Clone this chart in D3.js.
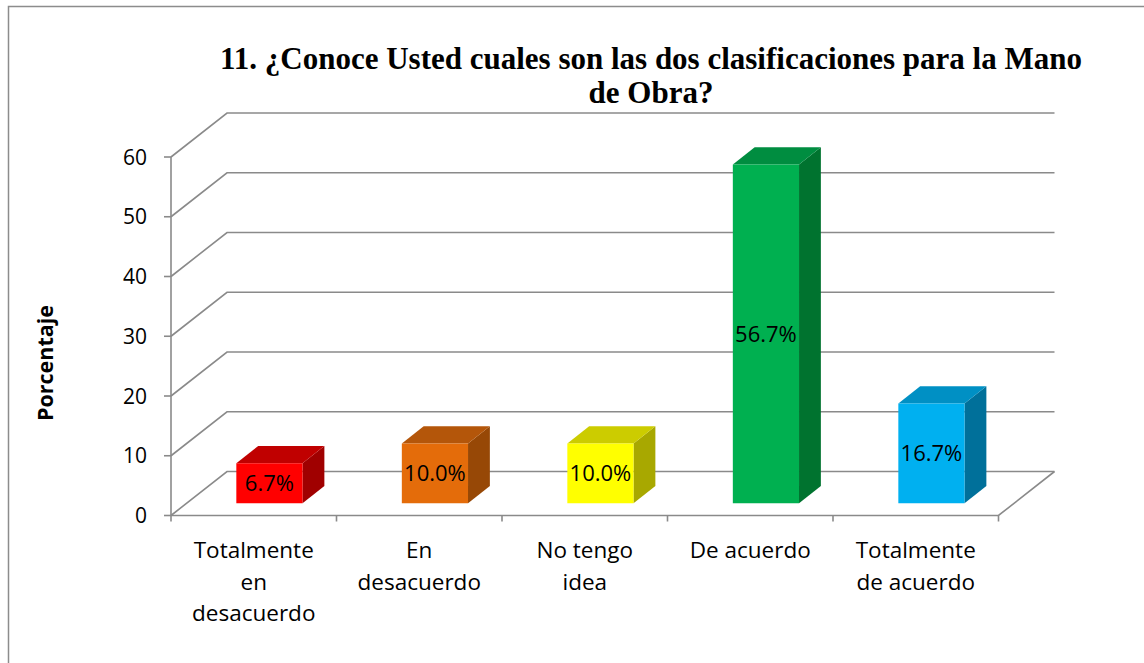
<!DOCTYPE html>
<html>
<head>
<meta charset="utf-8">
<script src="https://cdnjs.cloudflare.com/ajax/libs/d3/7.8.5/d3.min.js"></script>
<style>
  body { margin: 0; background: #fff; }
</style>
</head>
<body>
<div id="chart"></div>
<script>
var categories = [["Totalmente", "en", "desacuerdo"], ["En", "desacuerdo"], ["No tengo", "idea"], ["De acuerdo"], ["Totalmente", "de acuerdo"]];
var values = [6.7, 10.0, 10.0, 56.7, 16.7];
var labels = ["6.7%", "10.0%", "10.0%", "56.7%", "16.7%"];
var yTicks = [0, 10, 20, 30, 40, 50, 60];
var frontColors = ["#FF0000", "#E46C0A", "#FFFF00", "#00B050", "#00B0F0"];
var topColors = ["#C00000", "#B4560A", "#CCCC00", "#008D40", "#0090C4"];
var sideColors = ["#A00000", "#974806", "#A8A800", "#00732F", "#00709A"];
var titleLines = ["11. ¿Conoce Usted cuales son las dos clasificaciones para la Mano", "de Obra?"];

var width = 1144, height = 663;
var depthX = 56, depthY = -44;   // 3d depth offset
var d0 = 0.28, d1 = 0.67;        // bar front / back depth
var font = "'Open Sans', Lato, sans-serif";

var svg = d3.select("#chart").append("svg")
    .attr("width", width).attr("height", height);

// outer frame
svg.append("rect")
    .attr("x", 8.5).attr("y", 6.5).attr("width", 1150).attr("height", 700)
    .attr("fill", "none").attr("stroke", "#8c8c8c").attr("stroke-width", 1.5);

var idx = categories.map(function(d, i) { return i; });
var x = d3.scaleBand().domain(idx).range([171, 998.5]).padding(0);
var y = d3.scaleLinear().domain([0, 60]).range([515.5, 157]);

function p(px, v, d) {
    return [px + d * depthX, y(v) + d * depthY];
}

var gridColor = "#8a8a8a";
var grid = svg.append("g").attr("stroke", gridColor).attr("stroke-width", 1.6).attr("fill", "none");
var x0 = x.range()[0], x1 = x.range()[1];

// side wall diagonals and back wall lines
yTicks.forEach(function(t) {
    grid.append("path").attr("d", d3.line()([p(x0, t, 0), p(x0, t, 1), p(x1, t, 1)]));
});
// floor
grid.append("path").attr("d", d3.line()([p(x0, 0, 0), p(x1, 0, 0), p(x1, 0, 1)]));
// vertical axis
grid.append("path").attr("d", d3.line()([p(x0, 0, 0), p(x0, 60, 0)]));
// y ticks
yTicks.forEach(function(t) {
    grid.append("path").attr("d", d3.line()([[x0 - 7, y(t)], [x0, y(t)]]));
});
// x ticks
d3.range(categories.length + 1).forEach(function(i) {
    var px = x0 + i * x.bandwidth();
    grid.append("path").attr("d", d3.line()([[px, y(0)], [px, y(0) + 6]]));
});

// y tick labels
svg.append("g").selectAll("text").data(yTicks).enter().append("text")
    .attr("x", 147).attr("y", function(d) { return y(d); })
    .attr("dy", "0.36em")
    .attr("text-anchor", "end")
    .style("font-family", font)
    .style("font-size", "21px")
    .attr("fill", "#000")
    .text(function(d) { return d; });

// bars
var barW = x.bandwidth() * 0.4;
var bars = svg.append("g").selectAll("g").data(values).enter().append("g");
bars.each(function(v, i) {
    var g = d3.select(this);
    var cx = x(i) + x.bandwidth() / 2;
    var bx0 = cx - barW / 2, bx1 = cx + barW / 2;
    var line = d3.line();
    g.append("path").attr("fill", sideColors[i])
        .attr("d", line([p(bx1, 0, d0), p(bx1, v, d0), p(bx1, v, d1), p(bx1, 0, d1)]) + "Z");
    g.append("path").attr("fill", topColors[i])
        .attr("d", line([p(bx0, v, d0), p(bx1, v, d0), p(bx1, v, d1), p(bx0, v, d1)]) + "Z");
    g.append("path").attr("fill", frontColors[i])
        .attr("d", line([p(bx0, 0, d0), p(bx1, 0, d0), p(bx1, v, d0), p(bx0, v, d0)]) + "Z");
    var c0 = p(cx, v / 2, d0);
    g.append("text")
        .attr("x", c0[0]).attr("y", c0[1])
        .attr("dy", "0.36em")
        .attr("text-anchor", "middle")
        .style("font-family", font)
        .style("font-size", "22px")
        .attr("fill", "#000")
        .text(labels[i]);
});

// category labels
var cat = svg.append("g").selectAll("text").data(categories).enter().append("text")
    .attr("text-anchor", "middle")
    .style("font-family", font)
    .style("font-size", "22.5px")
    .attr("fill", "#000");
cat.each(function(lines, i) {
    var t = d3.select(this);
    var cx = x(i) + x.bandwidth() / 2;
    lines.forEach(function(l, j) {
        t.append("tspan").attr("x", cx).attr("y", 558 + j * 31.5).text(l);
    });
});

// axis title
svg.append("text")
    .attr("transform", "translate(53,363) rotate(-90)")
    .attr("text-anchor", "middle")
    .style("font-family", font)
    .style("font-weight", "bold")
    .style("font-size", "21.5px")
    .text("Porcentaje");

// title
svg.append("g").selectAll("text").data(titleLines).enter().append("text")
    .attr("x", 651).attr("y", function(d, i) { return 69 + i * 34; })
    .attr("text-anchor", "middle")
    .style("font-family", "'Liberation Serif', 'Times New Roman', serif")
    .style("font-weight", "bold")
    .style("font-size", "31px")
    .text(function(d) { return d; });
</script>
</body>
</html>
